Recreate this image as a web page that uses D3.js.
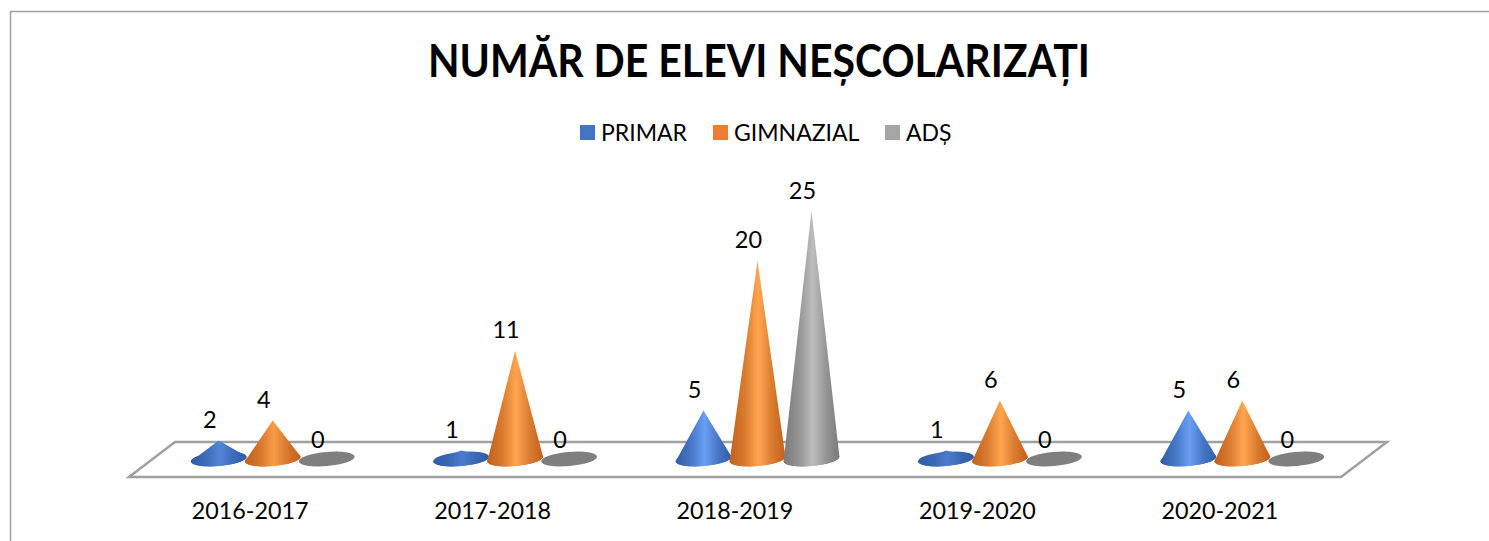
<!DOCTYPE html>
<html>
<head>
<meta charset="utf-8">
<script src="https://cdn.jsdelivr.net/npm/d3@7"></script>
<style>
html,body{margin:0;padding:0;background:#fff}
svg{display:block}
text{font-family:Lato,"Open Sans",sans-serif;fill:#000}
</style>
</head>
<body>
<svg></svg>
<script>
var categories = ["2016-2017","2017-2018","2018-2019","2019-2020","2020-2021"];
var seriesNames = ["PRIMAR","GIMNAZIAL","ADȘ"];
var primar = [2,1,5,1,5];
var gimnazial = [4,11,20,6,6];
var ads = [0,0,25,0,0];
var seriesValues = [primar,gimnazial,ads];
var legendColors = ["#4472C4","#ED7D31","#A5A5A5"];
var coneEdge = ["#2f5ca6","#c2601c","#7a7a7a"];
var coneMid = ["#6a9ff5","#ffa54f","#bdbdbd"];

var svgWidth=1489,svgHeight=541;
var svg=d3.select("svg")
   .attr("width",svgWidth)
   .attr("height",svgHeight);

// chart frame, only top and left edges are in the crop
svg.append("path")
   .attr("d","M10.5,541V11.5H1489")
   .attr("fill","none")
   .attr("stroke","#a0a0a0")
   .attr("stroke-width",1.5);

svg.append("text")
   .attr("x",428)
   .attr("y",77)
   .attr("font-size",46)
   .attr("font-weight",700)
   .attr("textLength",662)
   .attr("lengthAdjust","spacingAndGlyphs")
   .text("NUMĂR DE ELEVI NEȘCOLARIZAȚI");

// scales
var x=d3.scaleBand().domain(categories).range([129,1341]);
var offs=d3.scalePoint().domain(seriesNames).range([-54,54]);
var y=d3.scaleLinear().domain([0,25]).range([460.5,211]);
var shear=22.5,rx=28,ry=7,tilt=-5;

// floor
var backY=442,frontY=477;
svg.append("path")
   .attr("d","M129,"+frontY+"L175,"+backY+"H1387L1341,"+frontY+"Z")
   .attr("fill","#fff")
   .attr("stroke","#a0a0a0")
   .attr("stroke-width",2.5);

var defs=svg.append("defs");

// low cones look flatter in the picture, so the highlight fades with height
function coneFill(si,ci,v){
   var id="cone"+si+"-"+ci;
   var mid=d3.interpolateRgb(coneEdge[si],coneMid[si])(0.35+0.65*Math.min(1,v/5));
   var side=d3.interpolateRgb(coneEdge[si],mid)(0.4);
   var g=defs.append("linearGradient").attr("id",id);
   [[0,coneEdge[si]],[28,side],[52,mid],[76,side],[100,coneEdge[si]]].forEach(function(st){
      g.append("stop").attr("offset",st[0]+"%").attr("stop-color",st[1]);
   });
   return "url(#"+id+")";
}

// cones
categories.forEach(function(c,ci){
   seriesNames.forEach(function(s,si){
      var v=seriesValues[si][ci];
      var cx=x(c)+x.bandwidth()/2+shear+offs(s);
      var by=461-2;
      var t=tilt*Math.PI/180;
      var dx=rx*Math.cos(t),dy=rx*Math.sin(t);
      var fill=v==0?"#7f7f7f":coneFill(si,ci,v);
      var g=svg.append("g");
      g.append("ellipse")
         .attr("cx",cx).attr("cy",by).attr("rx",rx).attr("ry",ry)
         .attr("transform","rotate("+tilt+","+cx+","+by+")")
         .attr("fill",fill);
      if(v>0){
         g.append("path")
            .attr("d","M"+(cx-dx)+","+(by-dy)+"A"+rx+","+ry+" "+tilt+" 0 0 "+(cx+dx)+","+(by+dy)+"L"+cx+","+y(v)+"Z")
            .attr("fill",fill);
      }
      svg.append("text")
         .attr("x",cx-9)
         .attr("y",y(v)-12.5)
         .attr("text-anchor","middle")
         .attr("font-size",23.5)
         .text(v);
   });
});

// category labels
svg.selectAll(".cat")
   .data(categories)
   .enter()
   .append("text")
   .attr("class","cat")
   .attr("x",function(d){return x(d)+x.bandwidth()/2;})
   .attr("y",518.5)
   .attr("text-anchor","middle")
   .attr("font-size",23.3)
   .text(function(d){return d;});

// legend
var legendX=[580,713,885];
seriesNames.forEach(function(s,i){
   svg.append("rect")
      .attr("x",legendX[i]).attr("y",125)
      .attr("width",15).attr("height",15)
      .attr("fill",legendColors[i]);
   svg.append("text")
      .attr("x",legendX[i]+21).attr("y",140.5)
      .attr("font-size",23)
      .text(s);
});
</script>
</body>
</html>
